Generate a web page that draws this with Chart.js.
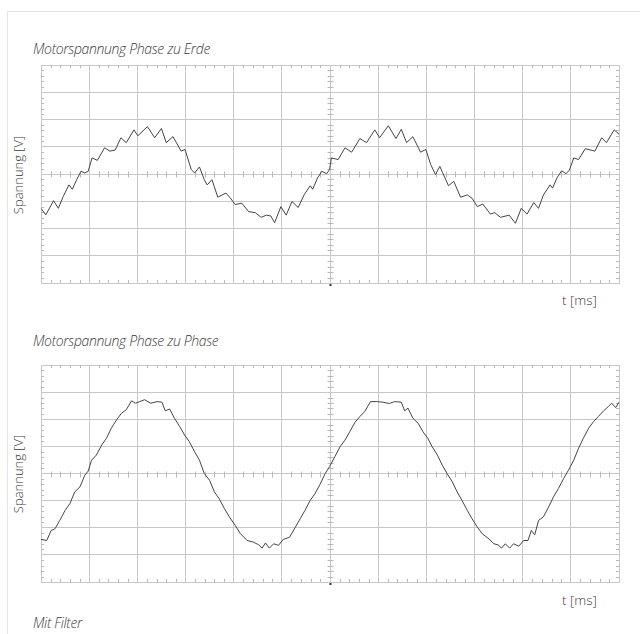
<!DOCTYPE html>
<html>
<head>
<meta charset="utf-8">
<script src="https://cdn.jsdelivr.net/npm/chart.js@4.4.1/dist/chart.umd.min.js"></script>
<style>
  body { margin: 0; background: #fff; width: 640px; height: 634px; overflow: hidden; position: relative; font-family: "Open Sans", "Noto Sans", sans-serif; color: #3c3c3c; }
  .frame { position: absolute; left: 7px; top: 11px; width: 700px; height: 700px; border-left: 1px solid #e4e4e4; border-top: 1px solid #e4e4e4; }
  .title { position: absolute; left: 33px; font-size: 14px; font-style: italic; font-weight: 300; letter-spacing: -0.35px; line-height: 16px; }
  .ylab { position: absolute; font-size: 13px; font-weight: 300; line-height: 16px; transform: rotate(-90deg); transform-origin: center; white-space: nowrap; width: 100px; text-align: center; }
  .xlab { position: absolute; font-size: 13.5px; font-weight: 300; line-height: 16px; }
  canvas { position: absolute; }
</style>
</head>
<body>
<div class="frame"></div>

<div class="title" style="top:41px">Motorspannung Phase zu Erde</div>
<div class="ylab" style="left:-32px; top:167px">Spannung [V]</div>
<canvas id="chartTop" width="588" height="228" style="left:36px; top:60px"></canvas>
<div class="xlab" style="left:562px; top:292px">t [ms]</div>

<div class="title" style="top:333px">Motorspannung Phase zu Phase</div>
<div class="ylab" style="left:-32px; top:466px">Spannung [V]</div>
<canvas id="chartBottom" width="588" height="227" style="left:36px; top:360px"></canvas>
<div class="xlab" style="left:562px; top:592px">t [ms]</div>

<div class="title" style="top:615px">Mit Filter</div>

<script>
// Zeit in Rasterteilungen (12 Teilungen), Spannung in Teilungen (8 Teilungen)
const topT = [0.0, 0.1, 0.26, 0.36, 0.46, 0.58, 0.65, 0.74, 0.83, 0.91, 0.98, 1.06, 1.17, 1.32, 1.43, 1.54, 1.66, 1.77, 1.93, 2.01,
  2.21, 2.36, 2.5, 2.6, 2.74, 2.91, 2.99, 3.12, 3.19, 3.29, 3.39, 3.45, 3.55, 3.67, 3.84, 3.93, 4.03, 4.17, 4.31, 4.45,
  4.57, 4.68, 4.77, 4.85, 4.98, 5.09, 5.21, 5.34, 5.46, 5.59, 5.64, 5.74, 5.83, 5.93, 5.99, 6.03, 6.17, 6.31, 6.45, 6.62,
  6.76, 6.93, 7.03, 7.21, 7.37, 7.48, 7.59, 7.72, 7.88, 7.99, 8.09, 8.19, 8.28, 8.34, 8.46, 8.57, 8.71, 8.85, 8.95, 9.06,
  9.17, 9.33, 9.42, 9.54, 9.72, 9.85, 9.97, 10.09, 10.23, 10.33, 10.43, 10.57, 10.62, 10.71, 10.81, 10.9, 10.97, 11.06, 11.16, 11.3,
  11.5, 11.64, 11.74, 11.9, 12.0];
const topV = [-1.26, -1.5, -0.98, -1.26, -0.83, -0.4, -0.56, -0.21, 0.1, 0.04, 0.1, 0.59, 0.5, 0.96, 0.84, 0.88, 1.33, 1.15, 1.62, 1.4,
  1.74, 1.33, 1.67, 1.15, 1.37, 0.84, 0.9, 0.16, 0.04, 0.26, -0.21, -0.4, -0.21, -0.85, -0.7, -0.88, -1.12, -1.07, -1.38, -1.42,
  -1.59, -1.51, -1.54, -1.79, -1.2, -1.51, -1.01, -1.23, -0.77, -0.43, -0.56, -0.15, 0.1, 0.01, 0.16, 0.59, 0.53, 0.96, 0.8, 1.3,
  1.15, 1.62, 1.33, 1.77, 1.3, 1.64, 1.15, 1.37, 0.8, 0.9, 0.35, -0.02, 0.28, 0.04, -0.43, -0.27, -0.85, -0.77, -0.89, -1.2,
  -1.1, -1.47, -1.42, -1.59, -1.51, -1.81, -1.26, -1.47, -1.05, -1.26, -0.77, -0.4, -0.52, -0.15, 0.12, 0.01, 0.14, 0.59, 0.53, 0.93,
  0.84, 1.33, 1.15, 1.62, 1.46];

const bottomT = [0.0, 0.12, 0.21, 0.29, 0.39, 0.5, 0.6, 0.7, 0.81, 0.91, 0.98, 1.05, 1.15, 1.26, 1.36, 1.46, 1.57, 1.67, 1.77, 1.88,
  1.96, 2.05, 2.15, 2.28, 2.41, 2.51, 2.58, 2.67, 2.77, 2.88, 2.98, 3.08, 3.19, 3.29, 3.39, 3.5, 3.6, 3.7, 3.81, 3.91,
  4.03, 4.14, 4.28, 4.41, 4.52, 4.59, 4.66, 4.74, 4.83, 4.93, 5.03, 5.16, 5.28, 5.38, 5.48, 5.59, 5.69, 5.79, 5.9, 5.99,
  6.1, 6.21, 6.31, 6.41, 6.52, 6.62, 6.72, 6.84, 6.97, 7.1, 7.23, 7.34, 7.48, 7.55, 7.62, 7.72, 7.83, 7.93, 8.03, 8.12,
  8.23, 8.33, 8.43, 8.54, 8.64, 8.74, 8.85, 8.95, 9.06, 9.16, 9.3, 9.4, 9.49, 9.56, 9.64, 9.73, 9.81, 9.92, 10.02, 10.11,
  10.18, 10.25, 10.33, 10.43, 10.54, 10.64, 10.74, 10.85, 10.95, 11.06, 11.16, 11.26, 11.37, 11.47, 11.57, 11.68, 11.78, 11.85, 11.93, 12.0];
const bottomV = [-2.43, -2.47, -2.1, -2.04, -1.73, -1.36, -1.11, -0.68, -0.49, -0.06, 0.09, 0.49, 0.68, 1.05, 1.3, 1.67, 1.98, 2.22, 2.35, 2.68,
  2.59, 2.65, 2.72, 2.59, 2.65, 2.63, 2.31, 2.38, 2.04, 1.73, 1.42, 1.17, 0.8, 0.49, 0.0, -0.25, -0.68, -0.93, -1.3, -1.6,
  -1.91, -2.22, -2.47, -2.53, -2.63, -2.75, -2.56, -2.75, -2.59, -2.65, -2.43, -2.35, -1.98, -1.67, -1.36, -0.99, -0.74, -0.41, 0.0, 0.25,
  0.62, 0.99, 1.23, 1.54, 1.89, 2.1, 2.28, 2.65, 2.65, 2.63, 2.58, 2.65, 2.63, 2.31, 2.41, 2.04, 1.85, 1.54, 1.3, 0.99,
  0.68, 0.31, 0.0, -0.31, -0.68, -0.99, -1.36, -1.67, -1.98, -2.22, -2.41, -2.59, -2.63, -2.75, -2.59, -2.75, -2.59, -2.68, -2.47, -2.47,
  -2.1, -2.26, -1.73, -1.6, -1.23, -0.86, -0.56, -0.19, 0.12, 0.49, 0.93, 1.3, 1.67, 1.91, 2.1, 2.31, 2.47, 2.59, 2.43, 2.63];

const gridColor = '#c8c8c8';
const traceColor = '#444444';

// Feinteilung wie am Oszilloskop: 5 Striche pro Teilung auf Mittellinien und Rand
const scopeTicks = {
    id: 'scopeTicks',
    beforeDatasetsDraw(chart) {
        const { ctx, chartArea, scales } = chart;
        const { left, right, top, bottom } = chartArea;
        const cx = Math.round(scales.x.getPixelForValue(6)) + 0.5;
        const cy = Math.round(scales.y.getPixelForValue(0)) + 0.5;
        ctx.save();
        ctx.strokeStyle = '#b8b8b8';
        ctx.lineWidth = 1;
        ctx.beginPath();
        for (let i = 1; i < 60; i++) {
            if (i % 5 === 0) continue;
            const px = Math.round(scales.x.getPixelForValue(i / 5)) + 0.5;
            ctx.moveTo(px, cy - 3); ctx.lineTo(px, cy + 3);
            ctx.moveTo(px, top); ctx.lineTo(px, top + 3);
            ctx.moveTo(px, bottom); ctx.lineTo(px, bottom - 3);
        }
        for (let i = -19; i < 20; i++) {
            if (i % 5 === 0) continue;
            const py = Math.round(scales.y.getPixelForValue(i / 5)) + 0.5;
            ctx.moveTo(cx - 3, py); ctx.lineTo(cx + 3, py);
            ctx.moveTo(left, py); ctx.lineTo(left + 3, py);
            ctx.moveTo(right, py); ctx.lineTo(right - 3, py);
        }
        ctx.stroke();
        // Triggermarke unter der Mitte
        ctx.fillStyle = '#333';
        ctx.fillRect(cx - 1, bottom + 1, 2, 2);
        ctx.restore();
    }
};

function makeScope(id, t, v) {
    const ctx = document.getElementById(id).getContext('2d');
    return new Chart(ctx, {
        type: 'scatter',
        data: {
            datasets: [{
                data: t.map((x, i) => ({ x: x, y: v[i] })),
                showLine: true,
                borderColor: traceColor,
                borderWidth: 1,
                pointRadius: 0,
                tension: 0
            }]
        },
        options: {
            responsive: false,
            animation: false,
            devicePixelRatio: 1,
            layout: { padding: 5 },
            scales: {
                x: {
                    type: 'linear', min: 0, max: 12,
                    ticks: { stepSize: 1, display: false },
                    grid: { color: gridColor, drawTicks: false },
                    border: { color: gridColor }
                },
                y: {
                    type: 'linear', min: -4, max: 4,
                    ticks: { stepSize: 1, display: false },
                    grid: { color: gridColor, drawTicks: false },
                    border: { color: gridColor }
                }
            },
            plugins: {
                legend: { display: false },
                tooltip: { enabled: false }
            }
        },
        plugins: [scopeTicks]
    });
}

makeScope('chartTop', topT, topV);
makeScope('chartBottom', bottomT, bottomV);
</script>
</body>
</html>
